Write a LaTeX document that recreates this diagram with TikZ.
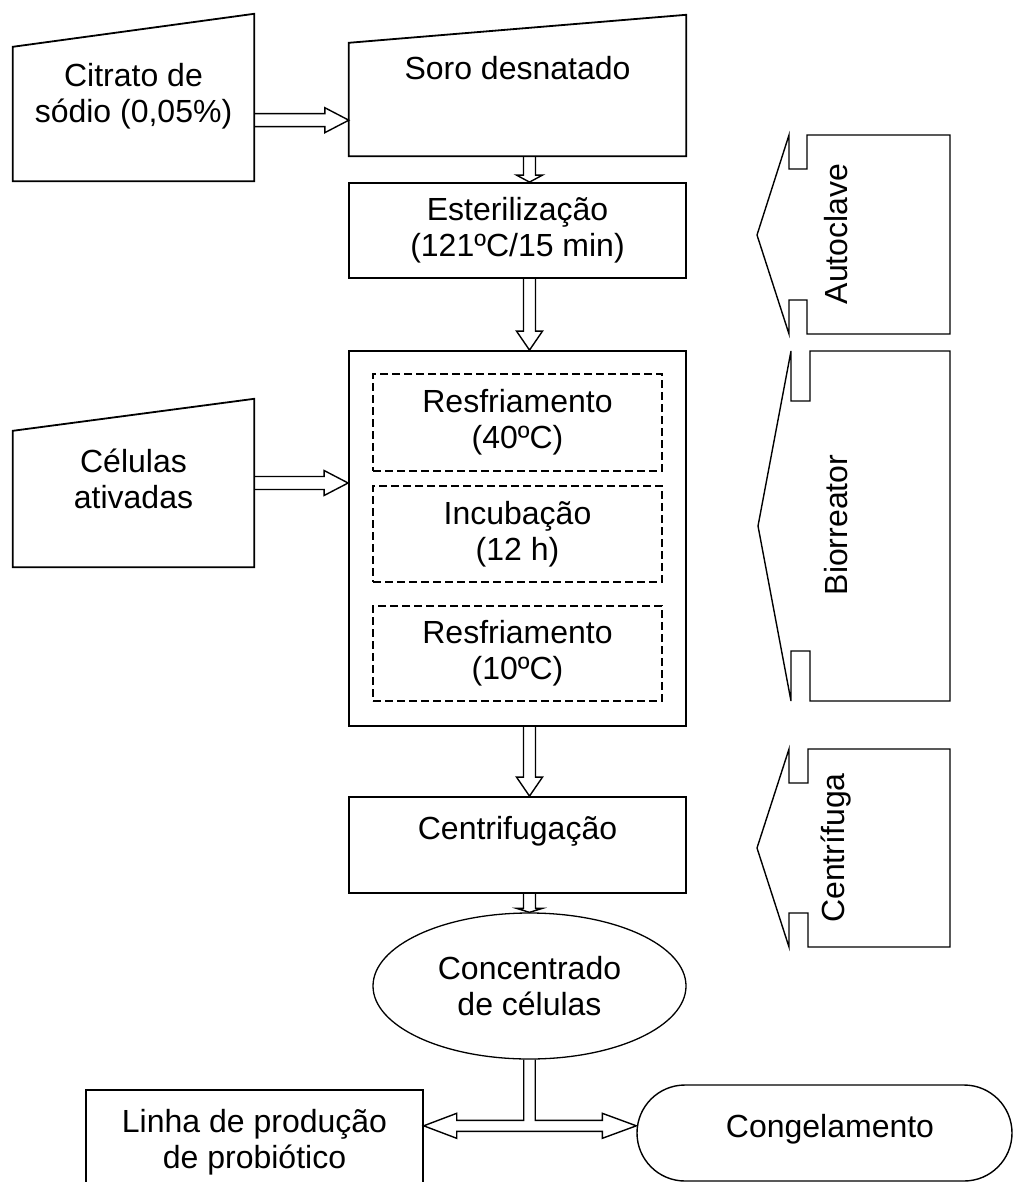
\documentclass[tikz,border=0pt]{standalone}
\usepackage{fontspec}
\setmainfont{Liberation Sans}
\usetikzlibrary{calc,shapes.geometric}
\newcommand\dfont{\fontsize{32pt}{36pt}\selectfont}
% horizontal hollow arrow: start point #1, tip x taken from #2
\newcommand\harr[2]{\draw[arr] let \p1=#1, \p2=#2 in
  (\x1,\y1+6.5pt) -- (\x2-24pt,\y1+6.5pt) -- (\x2-24pt,\y1+12.5pt) -- (\x2,\y1)
  -- (\x2-24pt,\y1-12.5pt) -- (\x2-24pt,\y1-6.5pt) -- (\x1,\y1-6.5pt);}
% vertical hollow arrow downwards: head length #1, start #2, tip y from #3
\newcommand\varr[3]{\draw[arr] let \p1=#2, \p2=#3 in
  (\x1-6pt,\y1) -- (\x1-6pt,\y2+#1) -- (\x1-13pt,\y2+#1) -- (\x1,\y2)
  -- (\x1+13pt,\y2+#1) -- (\x1+6pt,\y2+#1) -- (\x1+6pt,\y1);}
\begin{document}
\begin{tikzpicture}[x=1pt,y=-1pt,
  shp/.style={draw,line width=1.8pt},
  txt/.style={inner sep=0pt,align=center,font=\dfont},
  box/.style={txt,draw,line width=1.8pt},
  dbox/.style={txt,draw,line width=1.3pt,dash pattern=on 8pt off 4pt,minimum width=289pt},
  arr/.style={draw,line width=1.4pt},
  eqp/.style={draw,line width=1.4pt},
  rtxt/.style={txt,rotate=90}]
\useasboundingbox (0,0) rectangle (1013,1182);
\clip (0,0) rectangle (1013,1182);

% inputs (manual input shapes)
\node[txt,minimum width=241pt,minimum height=167pt] (cit) at (133.5,97.5) {};
\draw[shp] (cit.south west) -- (cit.south east) -- (cit.north east) -- ($(cit.north west)+(0,33)$) -- cycle;
\node[txt] (citt) at (133.5,96) {Citrato de\\sódio (0,05\%)};

\node[txt,minimum width=337pt,minimum height=141pt] (soro) at (517.5,85.5) {};
\draw[shp] (soro.south west) -- (soro.south east) -- (soro.north east) -- ($(soro.north west)+(0,28)$) -- cycle;
\node[txt,anchor=base] (sorot) at (517.5,80) {Soro desnatado};

\node[txt,minimum width=241pt,minimum height=168pt] (cel) at (133.5,483) {};
\draw[shp] (cel.south west) -- (cel.south east) -- (cel.north east) -- ($(cel.north west)+(0,32)$) -- cycle;
\node[txt] (celt) at (133.5,479) {Células\\ativadas};

% process boxes
\node[box,minimum width=337pt,minimum height=95pt] (est) at (517.5,230.5) {Esterilização\\(121ºC/15 min)};
\node[box,minimum width=337pt,minimum height=375pt] (big) at (517.5,538.5) {};
\node[dbox,minimum height=97pt] (r1) at (517.5,422.5) {Resfriamento\\(40ºC)};
\node[dbox,minimum height=96pt] (r2) at (517.5,534) {Incubação\\(12 h)};
\node[dbox,minimum height=95pt] (r3) at (517.5,653.5) {Resfriamento\\(10ºC)};
\node[box,minimum width=337pt,minimum height=96pt] (cen) at (517.5,845) {};
\node[txt,anchor=base] (cent) at (517.5,839) {Centrifugação};

\node[txt,draw,line width=1.3pt,ellipse,minimum width=313pt,minimum height=146pt] (ell) at (529.5,986) {Concentrado\\de células};

\node[box,line width=1.4pt,minimum width=337pt,minimum height=105pt] (lin) at (254.5,1142.5) {Linha de produção\\de probiótico};
\node[draw,line width=1.4pt,rounded corners=48pt,minimum width=375pt,minimum height=96pt] (cong) at (824.5,1133) {};
\node[txt,anchor=base] (congt) at (830,1137) {Congelamento};

% connectors
\harr{($(cit.south east)+(0,-61)$)}{(soro.west)}
\harr{(cel.east)}{(big.west)}
\varr{7pt}{(ell.north |- soro.south)}{(ell.north |- est.north)}
\varr{19pt}{(ell.north |- est.south)}{(ell.north |- big.north)}
\varr{19pt}{(ell.north |- big.south)}{(ell.north |- cen.north)}
\varr{4pt}{(ell.north |- cen.south)}{(ell.north)}
\draw[arr] let \p0=(ell.south), \p1=($(lin.north east)+(0,36.5)$), \p2=(cong.west) in
  (\x0-5.75pt,\y0) -- (\x0-5.75pt,\y1+5.5pt) -- (\x1+33pt,\y1+5.5pt) -- (\x1+33pt,\y1+12.5pt)
  -- (\x1,\y1) -- (\x1+33pt,\y1-12.5pt) -- (\x1+33pt,\y1-5.5pt) -- (\x2-34pt,\y1-5.5pt)
  -- (\x2-34pt,\y1-12.5pt) -- (\x2,\y1) -- (\x2-34pt,\y1+12.5pt) -- (\x2-34pt,\y1+5.5pt)
  -- (\x0+5.75pt,\y1+5.5pt) -- (\x0+5.75pt,\y0);

% equipment
\draw[eqp] (807,135) -- (950,135) -- (950,334) -- (807,334) -- (807,300) -- (789,300) -- (789,334)
  -- (757,235) -- (789,135) -- (789,169) -- (807,169) -- cycle;
\node[rtxt] (autot) at (836,234) {Autoclave};
\draw[eqp] (810,351) -- (950,351) -- (950,701) -- (810,701) -- (810,651) -- (791,651) -- (791,701)
  -- (758,526) -- (791,351) -- (791,401) -- (810,401) -- cycle;
\node[rtxt] (biot) at (836,525) {Biorreator};
\draw[eqp] (808,749) -- (950,749) -- (950,947) -- (808,947) -- (808,913) -- (789,913) -- (789,947)
  -- (757,848) -- (789,749) -- (789,783) -- (808,783) -- cycle;
\node[rtxt] (cenq) at (836,848) {Centrífuga};
\end{tikzpicture}
\end{document}
